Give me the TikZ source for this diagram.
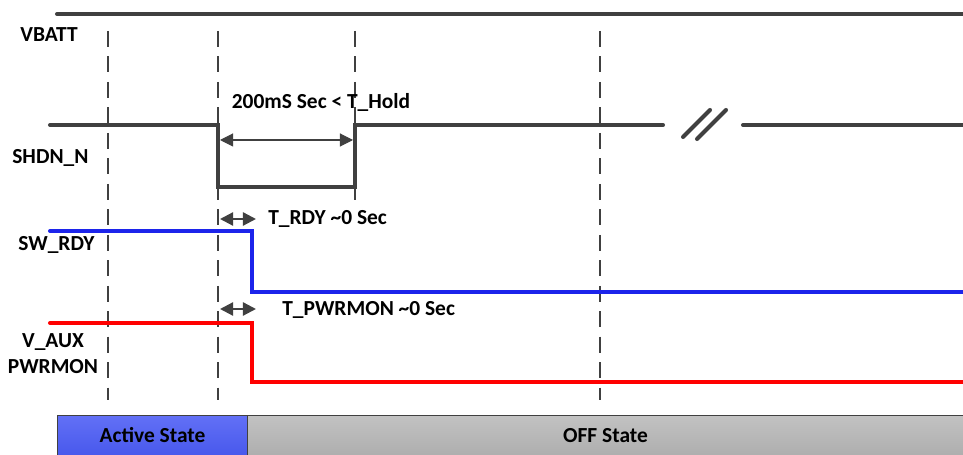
\documentclass[tikz,border=0pt]{standalone}
\usepackage{fontspec}
\setmainfont{Carlito}
\usetikzlibrary{arrows.meta}
\definecolor{sig}{RGB}{64,64,64}
\definecolor{rdyblue}{RGB}{28,36,235}
\definecolor{auxred}{RGB}{255,0,0}
\tikzset{
  wave/.style={line width=2.3pt,line cap=round,line join=miter},
  guide/.style={sig,line width=0.8pt,dash pattern=on 9pt off 5.5pt},
  lbl/.style={font=\fontsize{12.2}{14.8}\selectfont\bfseries,inner sep=0pt},
  dimarrow/.style={sig,{Triangle[length=7.5pt,width=7.5pt]}-{Triangle[length=7.5pt,width=7.5pt]}},
  statebox/.style={draw=sig,line width=0.6pt,anchor=north west,minimum height=0.8cm,
    inner sep=0pt,font=\fontsize{12.2}{14.8}\selectfont\bfseries},
}

\begin{document}
\begin{tikzpicture}[x=0.02cm,y=-0.02cm]
\useasboundingbox (0,0) rectangle (963,455);
% guide lines
\foreach \x/\y in {108/400,218/400,355/200,600/400}
  \draw[guide] (\x,31) -- (\x,\y);
% VBATT
\draw[wave,sig] (57,14) -- (963,14);
\node[lbl,anchor=west] (vbatt) at (20,35) {VBATT};
% SHDN_N
\draw[wave,sig] (50,125) -- (218,125) -- (218,187) -- (355,187) -- (355,125) -- (663,125);
\draw[wave,sig] (743,125) -- (963,125);
\draw[wave,sig] (683,137) -- (710,110) (697,139) -- (726,110);
\node[lbl,anchor=west] (shdn) at (12,158) {SHDN\_N};
\coordinate (holdL) at (220,140);
\coordinate (holdR) at (353,140);
\draw[dimarrow,line width=0.6pt] (holdL) -- (holdR);
\node[lbl] (hold) at (321,102) {200mS Sec < T\_Hold};
% SW_RDY
\draw[wave,rdyblue] (50,231) -- (252,231) -- (252,292) -- (963,292);
\node[lbl,anchor=west] (swrdy) at (18,245) {SW\_RDY};
\coordinate (rdyL) at (220,219);
\coordinate (rdyR) at (256,219);
\draw[dimarrow,line width=1.3pt] (rdyL) -- (rdyR);
\node[lbl,anchor=west] (trdy) at (268,219) {T\_RDY \textasciitilde0 Sec};
% V_AUX PWRMON
\draw[wave,auxred] (50,323) -- (252,323) -- (252,382) -- (963,382);
\node[lbl,align=center] (vaux) at (53,354) {V\_AUX\\PWRMON};
\coordinate (monL) at (220,309);
\coordinate (monR) at (256,309);
\draw[dimarrow,line width=1.3pt] (monL) -- (monR);
\node[lbl,anchor=west] (tmon) at (282,310) {T\_PWRMON \textasciitilde0 Sec};
% states
\node[statebox,minimum width=3.8cm,top color={rgb,255:red,98;green,112;blue,246},
  bottom color={rgb,255:red,72;green,88;blue,236}] (active) at (57,415) {Active State};
\node[statebox,minimum width=14.32cm,top color={rgb,255:red,194;green,194;blue,194},
  bottom color={rgb,255:red,174;green,174;blue,174}] (off) at (247,415) {OFF State};
\end{tikzpicture}
\end{document}
